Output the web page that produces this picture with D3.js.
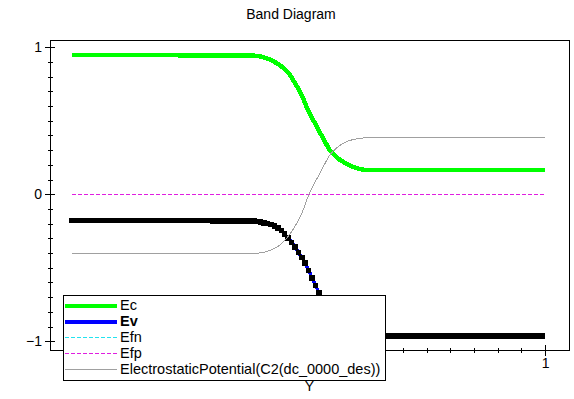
<!DOCTYPE html>
<html>
<head>
<meta charset="utf-8">
<style>
  body { margin: 0; background: #fff; }
  svg { display: block; font-family: "Liberation Sans", Arial, sans-serif; }
  .axis path, .axis line { stroke: black; stroke-width: 1px; shape-rendering: crispEdges; }
  .axis path { display: none; }
  .axis text { font-size: 14px; fill: black; }
  path.curve { fill: none; shape-rendering: crispEdges; }
</style>
<script src="https://d3js.org/d3.v7.min.js"></script>
</head>
<body>
<script>

    // values (x = position, y = energy)
    var xEc  = [0, 0.376, 0.404, 0.425, 0.446, 0.461, 0.471, 0.486, 0.499, 0.514, 0.531, 0.545, 0.567, 0.594, 0.624, 1];
    var ec   = [0.948, 0.944, 0.933, 0.906, 0.862, 0.812, 0.758, 0.673, 0.571, 0.481, 0.380, 0.301, 0.233, 0.187, 0.165, 0.165];

    var xEv  = [0, 0.376, 0.404, 0.425, 0.443, 0.457, 0.468, 0.482, 0.493, 0.503, 0.514, 0.531, 0.545, 0.567, 0.594, 0.624, 0.66, 1];
    var ev   = [-0.179, -0.181, -0.193, -0.213, -0.249, -0.298, -0.344, -0.412, -0.468, -0.536, -0.615, -0.725, -0.810, -0.885, -0.935, -0.958, -0.963, -0.963];

    var xEf  = [0, 1];
    var efn  = [0, 0];
    var efp  = [0, 0];

    var xEsp = [0, 0.376, 0.404, 0.425, 0.442, 0.457, 0.471, 0.486, 0.499, 0.510, 0.524, 0.545, 0.573, 0.602, 0.634, 1];
    var esp  = [-0.405, -0.404, -0.396, -0.373, -0.339, -0.287, -0.220, -0.129, -0.016, 0.060, 0.142, 0.266, 0.346, 0.377, 0.386, 0.386];

    var yMajor = [-1, 0, 1];
    var xMajor = [0, 1];
    var legendNames = ["Ec", "Ev", "Efn", "Efp", "ElectrostaticPotential(C2(dc_0000_des))"];

    var width = 574, height = 399;
    var mLeft = 50, mRight = 569, mTop = 40, mBottom = 350;

    var svg = d3.select("body").append("svg")
        .attr("width", width)
        .attr("height", height);

    var x = d3.scaleLinear().domain([-0.0465, 1.0507]).range([mLeft, mRight]);
    var y = d3.scaleLinear().domain([-1.063, 1.046]).range([mBottom + 0.5, mTop + 0.5]);

    var pairs = function(xs, ys) { return xs.map(function(v, i) { return [v, ys[i]]; }); };

    var line = d3.line()
        .x(function(d) { return x(d[0]); })
        .y(function(d) { return y(d[1]); })
        .curve(d3.curveMonotoneX);

    // title
    svg.append("text")
        .attr("x", 291).attr("y", 19)
        .attr("text-anchor", "middle")
        .style("font-size", "14px")
        .text("Band Diagram");

    // frame
    svg.append("rect")
        .attr("x", mLeft + 0.5).attr("y", mTop + 0.5)
        .attr("width", mRight - mLeft).attr("height", mBottom - mTop)
        .style("fill", "none").style("stroke", "black")
        .style("shape-rendering", "crispEdges");

    // y axis: major + minor ticks crossing the axis line
    var yAx = svg.append("g").attr("class", "axis").attr("transform", "translate(" + mLeft + ",0)");
    yAx.append("g").call(d3.axisLeft(y).tickValues(d3.range(-10, 11).map(function(d) { return d / 10; })).tickFormat(""))
       .selectAll(".tick line").attr("x1", 3).attr("x2", -2);
    yAx.append("g").call(d3.axisLeft(y).tickValues(yMajor).tickFormat(d3.format("d")))
       .call(function(g) {
          g.selectAll(".tick line").attr("x1", 5).attr("x2", -5);
          g.selectAll(".tick text").attr("x", -8);
       });

    // x axis
    var xAx = svg.append("g").attr("class", "axis").attr("transform", "translate(0," + mBottom + ")");
    xAx.append("g").call(d3.axisBottom(x).tickValues(d3.range(0, 21).map(function(d) { return d / 20; })).tickFormat(""))
       .selectAll(".tick line").attr("y1", -2).attr("y2", 3);
    xAx.append("g").call(d3.axisBottom(x).tickValues(xMajor).tickFormat(d3.format("d")))
       .call(function(g) {
          g.selectAll(".tick line").attr("y1", -5).attr("y2", 6);
          g.selectAll(".tick text").attr("y", 8);
       });

    svg.append("text")
        .attr("x", (mLeft + mRight) / 2).attr("y", 391)
        .attr("text-anchor", "middle")
        .style("font-size", "14px")
        .text("Y");

    // curves
    svg.append("path").attr("class", "curve")
        .datum(pairs(xEc, ec)).attr("d", line)
        .style("stroke", "#00ff00").style("stroke-width", 4.5);

    var evPath = svg.append("path").attr("class", "curve")
        .datum(pairs(xEv, ev)).attr("d", line)
        .style("stroke", "#0000ff").style("stroke-width", 3.5);

    // black square node markers along Ev, evenly spaced in x
    var node = evPath.node(), len = node.getTotalLength();
    var stepPx = x(0.00725) - x(0), nextX = x(0), marks = [];
    for (var s = 0; s <= len; s += 0.2) {
      var p = node.getPointAtLength(s);
      if (p.x >= nextX - 0.01) { marks.push(p); nextX += stepPx; }
    }
    svg.append("g").selectAll("rect")
      .data(marks).enter().append("rect")
      .attr("x", function(d) { return d.x - 2.75; })
      .attr("y", function(d) { return d.y - 2.75; })
      .attr("width", 5.5).attr("height", 5.5)
      .style("fill", "black").style("shape-rendering", "crispEdges");

    svg.append("path").attr("class", "curve")
        .datum(pairs(xEf, efn)).attr("d", line)
        .style("stroke", "#22e3ef").style("stroke-width", 1).style("stroke-dasharray", "4,2");
    svg.append("path").attr("class", "curve")
        .datum(pairs(xEf, efp)).attr("d", line)
        .style("stroke", "#e01ee0").style("stroke-width", 1).style("stroke-dasharray", "4,2");

    svg.append("path").attr("class", "curve")
        .datum(pairs(xEsp, esp)).attr("d", line)
        .style("stroke", "#a0a0a0").style("stroke-width", 1);

    // legend
    var styles = [
      {c: "#00ff00", w: 4, dash: null},
      {c: "#0000ff", w: 4, dash: null},
      {c: "#22e3ef", w: 1, dash: "4,2"},
      {c: "#e01ee0", w: 1, dash: "4,2"},
      {c: "#a0a0a0", w: 1, dash: null}
    ];
    var lg = svg.append("g");
    lg.append("rect")
      .attr("x", 63.5).attr("y", 295.5).attr("width", 322).attr("height", 85)
      .style("fill", "white").style("stroke", "black").style("shape-rendering", "crispEdges");
    var item = lg.selectAll("g.item").data(legendNames).enter().append("g")
      .attr("transform", function(d, i) { return "translate(0," + Math.round(305 + i * 16.1) + ")"; });
    item.append("line")
      .attr("x1", 65).attr("x2", 117).attr("y1", 0.5).attr("y2", 0.5)
      .style("stroke", function(d, i) { return styles[i].c; })
      .style("stroke-width", function(d, i) { return styles[i].w; })
      .style("stroke-dasharray", function(d, i) { return styles[i].dash; })
      .style("shape-rendering", "crispEdges");
    item.append("text")
      .attr("x", 120).attr("y", 0).attr("dy", "0.36em")
      .style("font-size", "14.5px")
      .style("font-weight", function(d, i) { return i == 1 ? "bold" : "normal"; })
      .text(function(d) { return d; });

</script>
</body>
</html>
